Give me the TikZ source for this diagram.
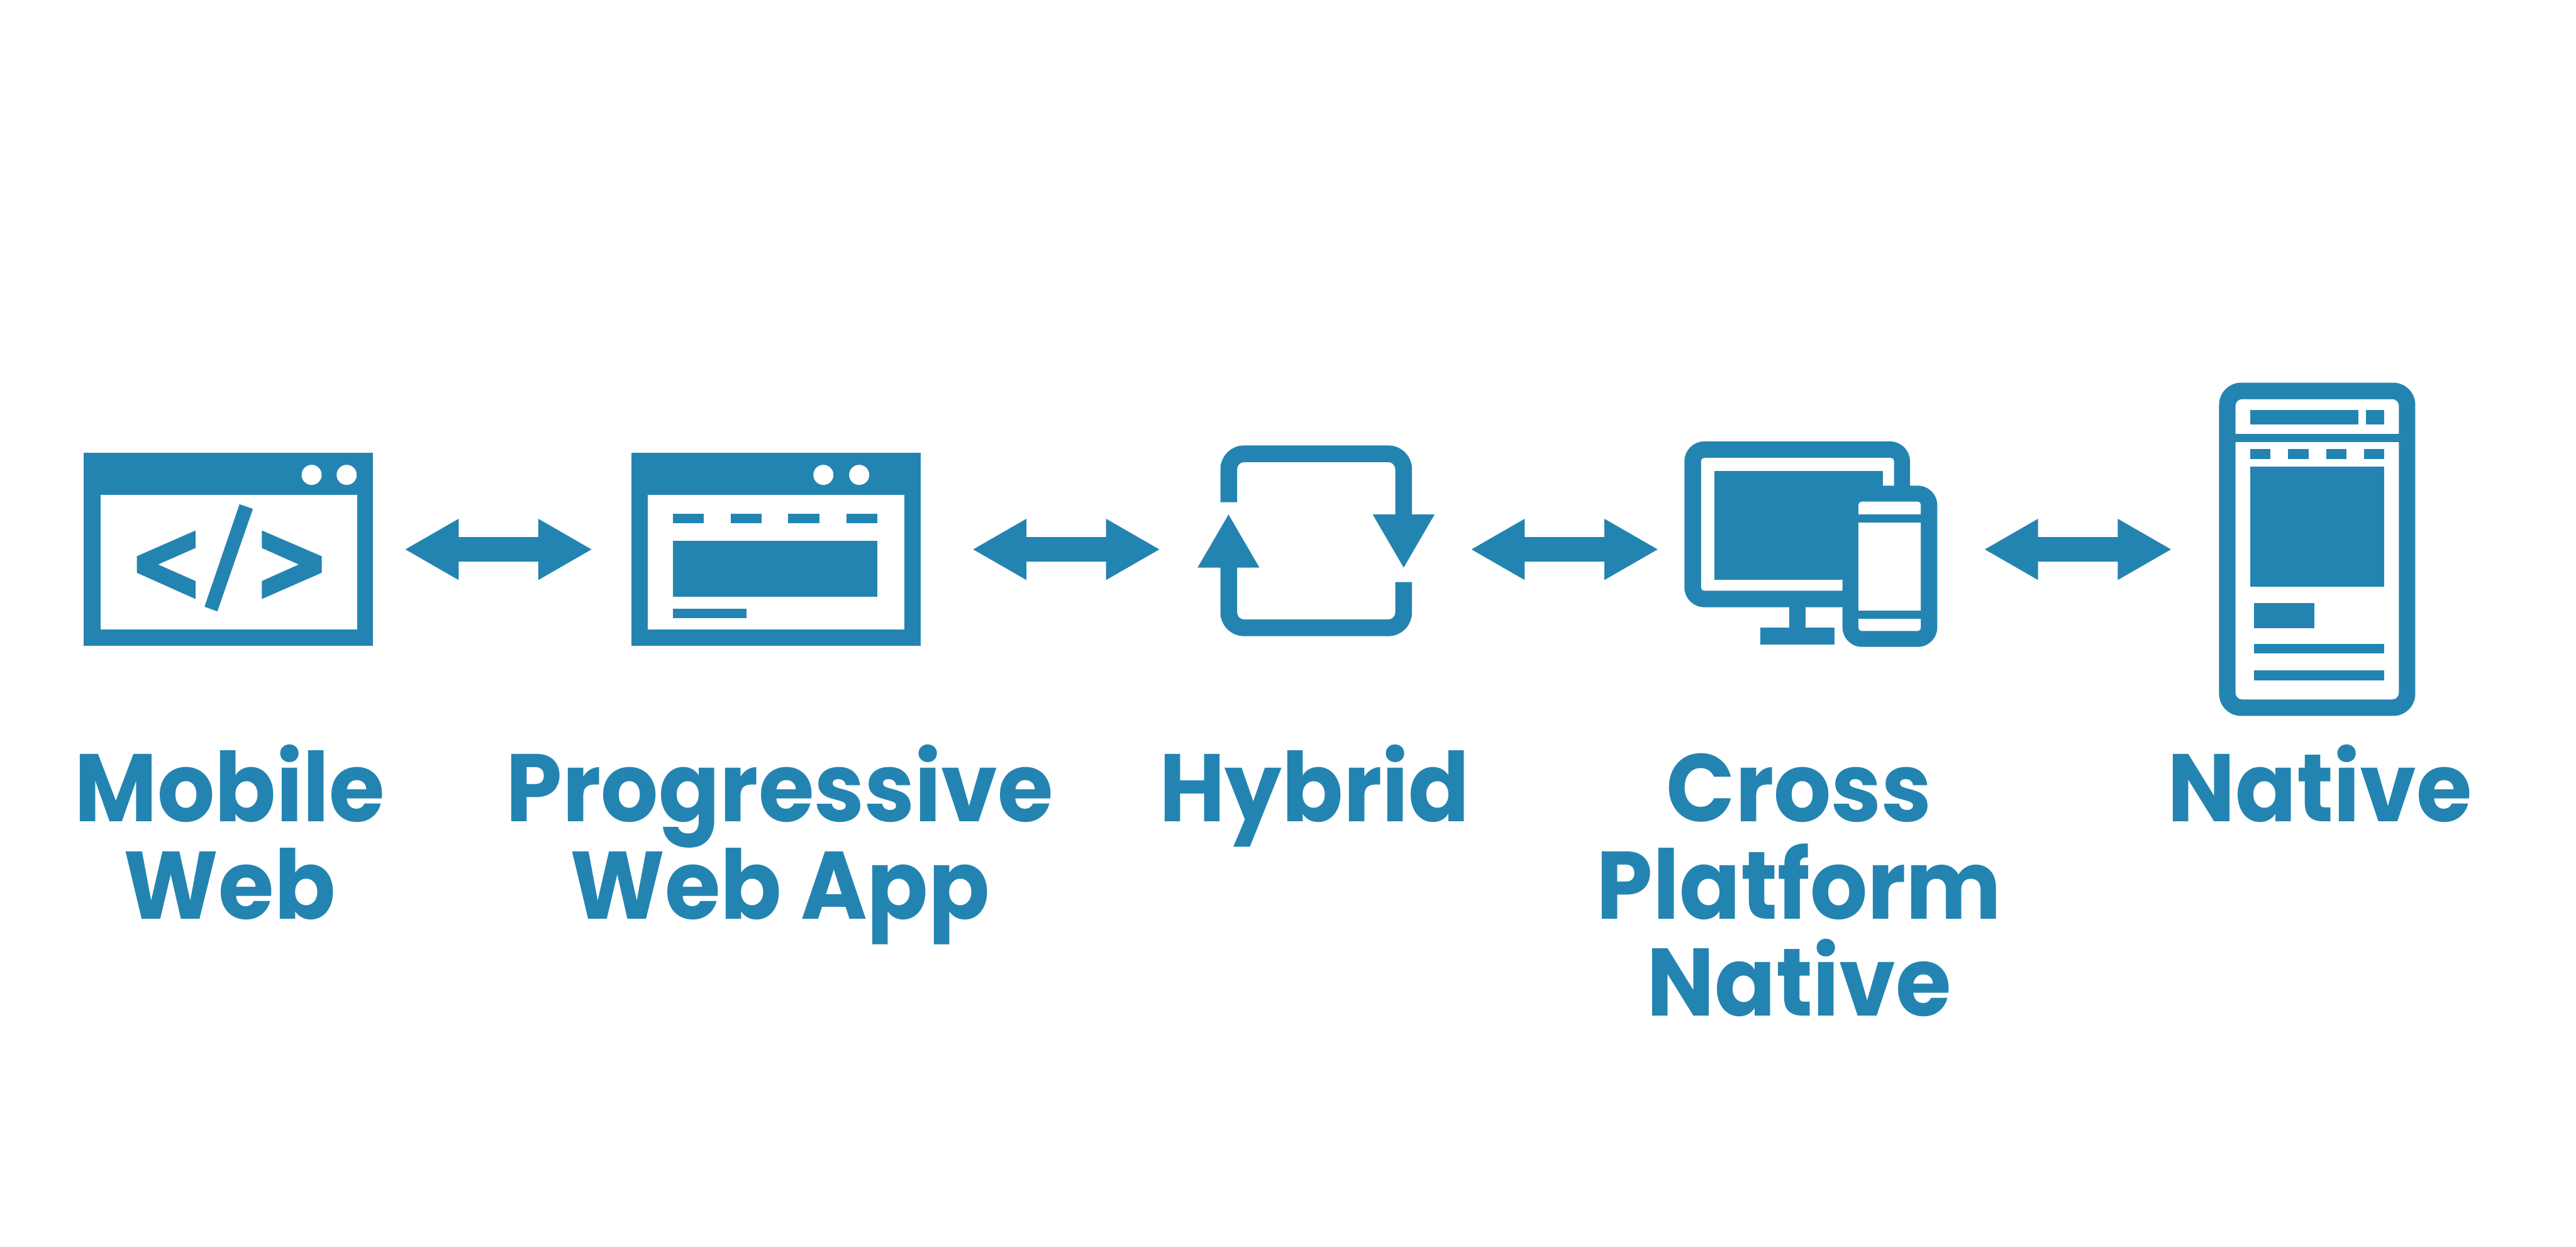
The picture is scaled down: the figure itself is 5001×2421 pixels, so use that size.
\documentclass[tikz,border=0pt]{standalone}
\usepackage{fontspec}
\newfontfamily\labelfont[FakeStretch=0.94]{Poppins}
\definecolor{iconblue}{HTML}{2484B1}
\tikzset{
  x=0.01cm,y=-0.01cm,
  ink/.style={fill=iconblue,draw=none},
  paper/.style={fill=white,draw=none},
  loopline/.style={draw=iconblue,line width=0.325cm,rounded corners=0.3cm,line cap=butt},
  lbl/.style={text=iconblue,font=\labelfont\fontsize{53}{53.76}\selectfont\bfseries,inner sep=0pt,anchor=base},
  pics/dblarrow/.style={code={
    \fill[iconblue] (0,0)--(103.4,-59.5)--(103.4,-24)--(258,-24)--(258,-59.5)--(361.4,0)--(258,59.5)--(258,23.6)--(103.4,23.6)--(103.4,59.5)--cycle;
  }}
}
\begin{document}
\begin{tikzpicture}
\useasboundingbox (0,0) rectangle (5001,2421);
\fill[white] (0,0) rectangle (5001,2421);

% Mobile web icon
\path[ink] (162,879) rectangle (724,1254);
\path[paper] (195,961) rectangle (693,1222);
\path[paper] (605,922) ellipse (19.5 and 19.5);
\path[paper] (673,922) ellipse (19.5 and 19.5);
\path[ink] (379.5,1030)--(265.6,1080)--(265.6,1112)--(379.5,1163)--(379.5,1128)--(306.8,1096)--(379.5,1064)--cycle;
\path[ink] (508.5,1030)--(624.6,1080)--(624.6,1112)--(508.5,1163)--(508.5,1128)--(580,1096)--(508.5,1064)--cycle;
\path[ink] (465,979)--(491,988)--(422,1187)--(397,1178)--cycle;

% Progressive web app icon
\path[ink] (1226,879) rectangle (1787,1254);
\path[paper] (1258,961) rectangle (1756,1222);
\path[paper] (1598.5,922) ellipse (19.5 and 19.5);
\path[paper] (1668,922) ellipse (19.5 and 19.5);
\path[ink] (1307,997) rectangle (1366,1016);
\path[ink] (1418.5,997) rectangle (1478,1016);
\path[ink] (1530,997) rectangle (1591,1016);
\path[ink] (1643,997) rectangle (1703,1016);
\path[ink] (1307,1050) rectangle (1703,1159);
\path[ink] (1307,1182) rectangle (1449,1200);

% Hybrid icon
\draw[loopline] (2385.5,975)--(2385.5,881)--(2725,881)--(2725,1010);
\draw[loopline] (2725,1130)--(2725,1219)--(2385.5,1219)--(2385.5,1090);
\path[ink] (2665,999)--(2785,999)--(2725,1102)--cycle;
\path[ink] (2325,1102)--(2445,1102)--(2385,999)--cycle;

% Cross platform icon
\path[ink,rounded corners=0.39cm] (3270,857) rectangle (3708,1179);
\path[paper,rounded corners=0.06cm] (3302.5,889) rectangle (3677,1147);
\path[ink] (3328.5,915) rectangle (3655,1126);
\path[ink] (3473,1170) rectangle (3505,1225);
\path[ink] (3418,1219) rectangle (3561,1251);
\path[ink,rounded corners=0.38cm] (3577,943) rectangle (3761,1256);
\path[paper,rounded corners=0.06cm] (3608,974) rectangle (3729,1225);
\path[ink] (3600,999) rectangle (3735,1015);
\path[ink] (3600,1185) rectangle (3735,1201);

% Native icon
\path[ink,rounded corners=0.43cm] (4308,743) rectangle (4689,1390);
\path[paper,rounded corners=0.13cm] (4340,775) rectangle (4657,1358);
\path[ink] (4335,843) rectangle (4662,858);
\path[ink] (4369,795.5) rectangle (4578,824);
\path[ink] (4593,795.5) rectangle (4629,824);
\path[ink] (4369,872) rectangle (4408,891);
\path[ink] (4442,872) rectangle (4482,891);
\path[ink] (4516,872) rectangle (4555,891);
\path[ink] (4589,872) rectangle (4629,891);
\path[ink] (4369,906) rectangle (4629,1139);
\path[ink] (4376,1170.5) rectangle (4493,1219.5);
\path[ink] (4376,1250) rectangle (4629,1268.5);
\path[ink] (4376,1302) rectangle (4629,1320.5);

% Double arrows
\pic (arrowA) at (787,1066.7) {dblarrow};
\pic (arrowB) at (1889.3,1066.7) {dblarrow};
\pic (arrowC) at (2856.7,1066.7) {dblarrow};
\pic (arrowD) at (3853.3,1066.7) {dblarrow};

% Labels
\node[lbl] (mobile) at (446,1595) {Mobile};
\node[lbl] (mobileb) at (446,1784) {Web};
\node[lbl] (pwa) at (1514,1595) {Progressive};
\node[lbl] (pwab) at (1514,1784) {Web App};
\node[lbl] (hybrid) at (2552,1595) {Hybrid};
\node[lbl] (cross) at (3493,1595) {Cross};
\node[lbl] (crossb) at (3493,1784) {Platform};
\node[lbl] (crossc) at (3493,1973) {Native};
\node[lbl] (native) at (4504,1595) {Native};
\end{tikzpicture}
\end{document}
